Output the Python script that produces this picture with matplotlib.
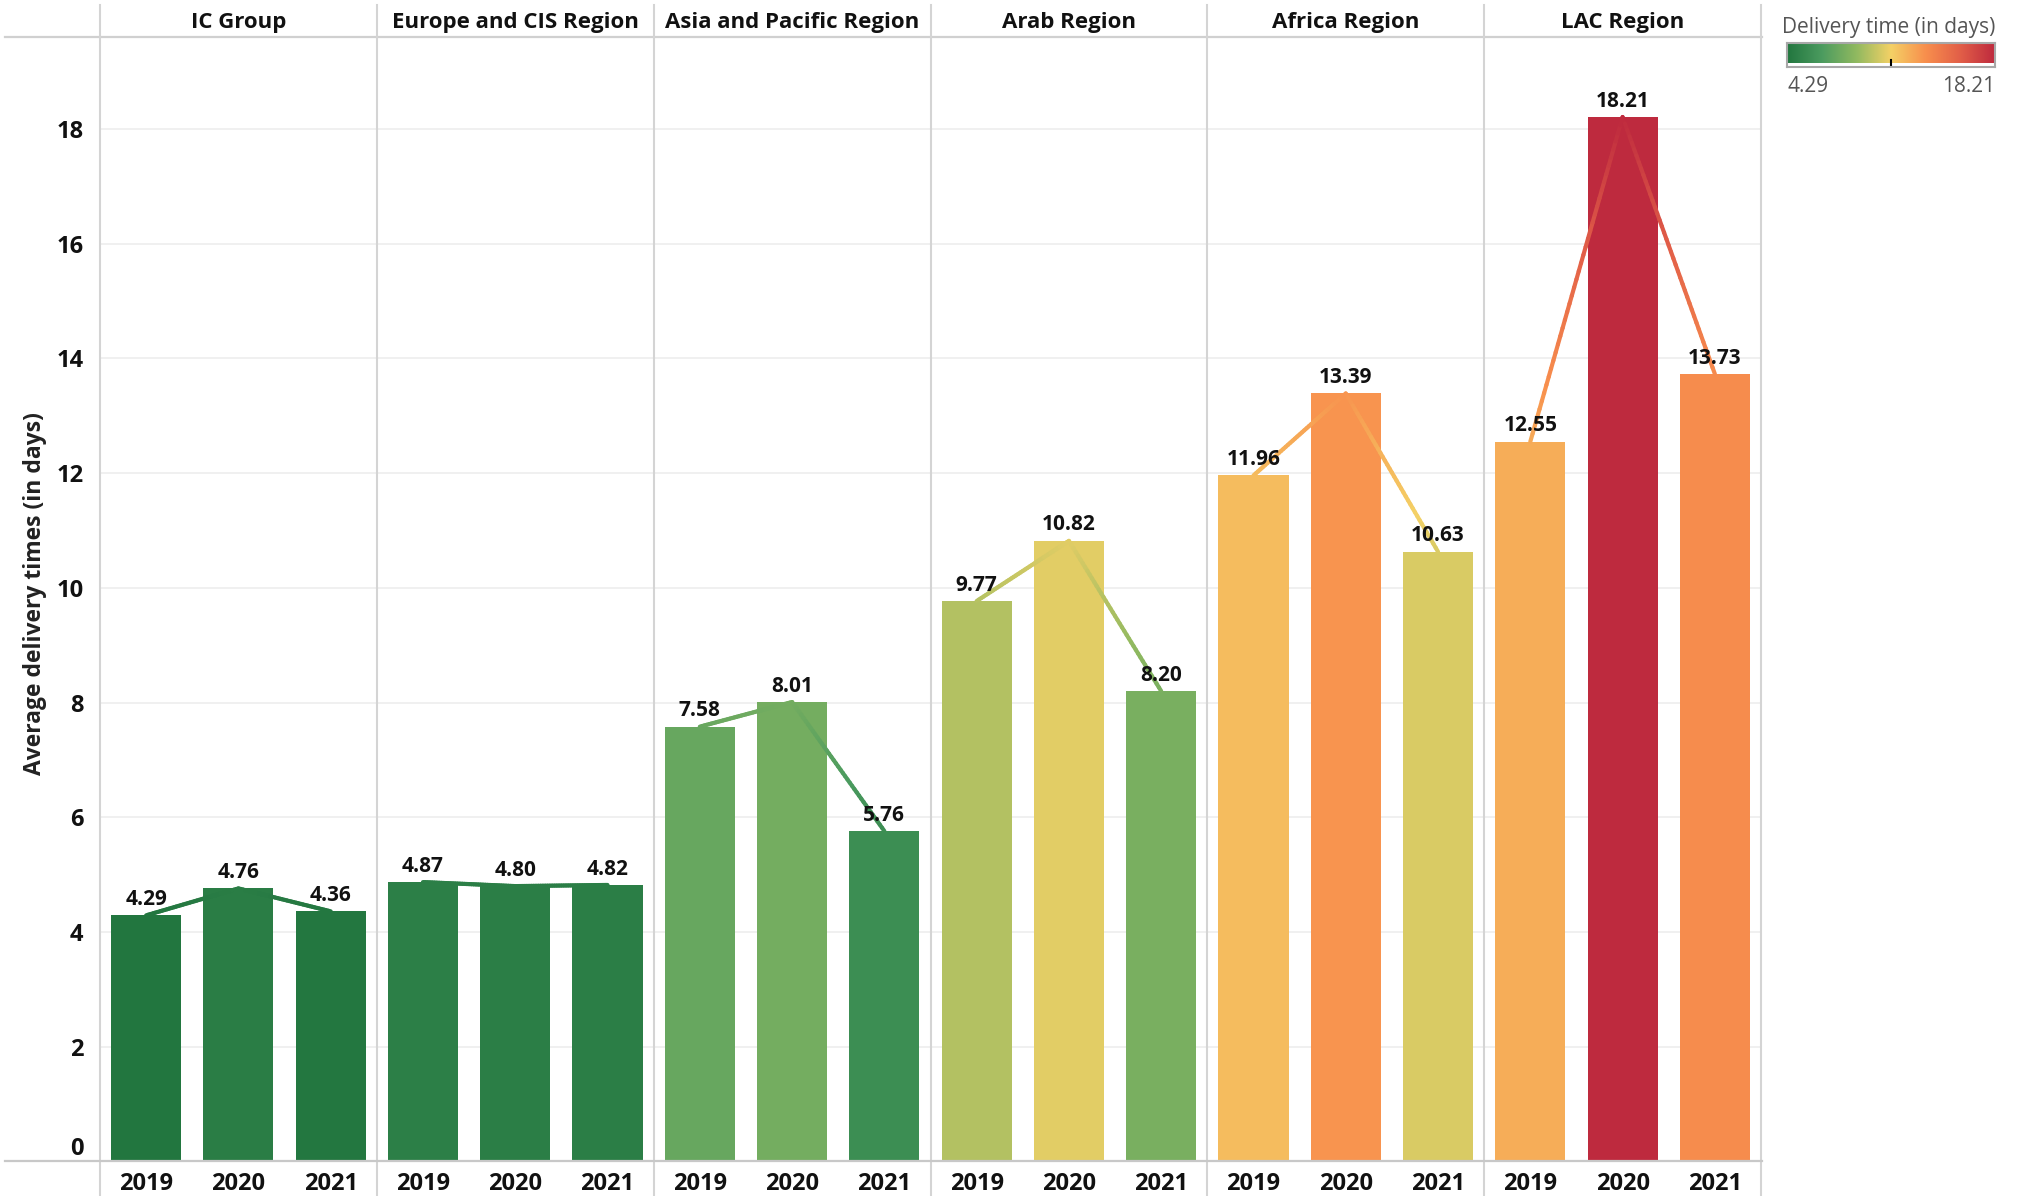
import matplotlib
matplotlib.use('Agg')
import matplotlib.pyplot as plt
import numpy as np
from matplotlib.colors import LinearSegmentedColormap, Normalize
from matplotlib.collections import LineCollection
from matplotlib.transforms import blended_transform_factory

# ---------------- data ----------------
regions = ["IC Group", "Europe and CIS Region", "Asia and Pacific Region",
           "Arab Region", "Africa Region", "LAC Region"]
years = ["2019", "2020", "2021"]
ic_group = [4.29, 4.76, 4.36]
europe_cis = [4.87, 4.80, 4.82]
asia_pacific = [7.58, 8.01, 5.76]
arab = [9.77, 10.82, 8.20]
africa = [11.96, 13.39, 10.63]
lac = [12.55, 18.21, 13.73]
y_ticks = [0, 2, 4, 6, 8, 10, 12, 14, 16, 18]
color_min, color_max = 4.29, 18.21
palette = ['#22763f', '#4b9b5f', '#90b960', '#f4d166', '#f88f4d', '#e25f48', '#be2a3e']

series = [ic_group, europe_cis, asia_pacific, arab, africa, lac]

# ---------------- style ----------------
plt.rcParams['font.family'] = ['Open Sans', 'DejaVu Sans']
W, H = 2021, 1196
fig = plt.figure(figsize=(W / 100, H / 100), dpi=100)

ax_left, ax_right, ax_top, ax_bottom = 100, 1761, 37.3, 1161.4
ax = fig.add_axes([ax_left / W, 1 - ax_bottom / H, (ax_right - ax_left) / W, (ax_bottom - ax_top) / H])

cmap = LinearSegmentedColormap.from_list('rgg', palette)
norm = Normalize(vmin=color_min, vmax=color_max)

n_years = len(years)
bar_w = 0.76
for p, vals in enumerate(series):
    xs = np.arange(n_years) + p * n_years
    ax.bar(xs, vals, width=bar_w, color=[cmap(norm(v)) for v in vals], zorder=2, linewidth=0)
    # gradient line connecting bar tops
    segs, cols = [], []
    for i in range(len(vals) - 1):
        n = 40
        tx = np.linspace(xs[i], xs[i + 1], n + 1)
        ty = np.linspace(vals[i], vals[i + 1], n + 1)
        for k in range(n):
            segs.append([(tx[k], ty[k]), (tx[k + 1], ty[k + 1])])
            cols.append(cmap(norm((ty[k] + ty[k + 1]) / 2)))
    lc = LineCollection(segs, colors=cols, linewidths=3.0, zorder=3, capstyle='round')
    ax.add_collection(lc)
    for x, v in zip(xs, vals):
        ax.annotate(f"{v:.2f}", (x, v), xytext=(0, 7.5), textcoords='offset points',
                    ha='center', va='baseline', fontsize=15, fontweight='bold',
                    color='#111111', zorder=5)

ax.set_xlim(-0.5, n_years * len(regions) - 0.5)
ax.set_ylim(0, 19.6)
ax.set_yticks(y_ticks)
ax.set_yticklabels([str(t) for t in y_ticks], fontsize=17, fontweight='bold', color='#111111')
ax.tick_params(axis='y', length=0, pad=12)
ax.tick_params(axis='x', length=0, labelbottom=False)
for lab in ax.get_yticklabels():
    if lab.get_text() == '0':
        lab.set_verticalalignment('bottom')
for s in ax.spines.values():
    s.set_visible(False)
for t in y_ticks[1:]:
    ax.axhline(t, color='#eeeeee', lw=1.2, zorder=0)

# header and bottom lines extending to the left
ax.plot([-(ax_left - 5) / (ax_right - ax_left), 1.0008], [1, 1], transform=ax.transAxes,
        color='#d0d0d0', lw=1.6, clip_on=False, zorder=1)
ax.plot([-(ax_left - 5) / (ax_right - ax_left), 1.0008], [0, 0], transform=ax.transAxes,
        color='#c8c8c8', lw=1.6, clip_on=False, zorder=4)

# panel separators
ymin_ext = -(H - ax_bottom) / (ax_bottom - ax_top)
ymax_ext = 1 + (ax_top - 5) / (ax_bottom - ax_top)
for b in range(len(regions) + 1):
    ax.axvline(b * n_years - 0.5, ymin=ymin_ext, ymax=ymax_ext, color='#d4d4d4', lw=1.5,
               clip_on=False, zorder=1)

trans = blended_transform_factory(ax.transData, ax.transAxes)
hdr_y = 1 + (ax_top - 22.5) / (ax_bottom - ax_top)
for p, r in enumerate(regions):
    ax.text(p * n_years + (n_years - 1) / 2, hdr_y, r, transform=trans, ha='center', va='center',
            fontsize=16, fontweight='bold', color='#111111')
yr_y = -(1184 - ax_bottom) / (ax_bottom - ax_top)
for p in range(len(regions)):
    for i, yname in enumerate(years):
        ax.text(p * n_years + i, yr_y, yname, transform=trans, ha='center', va='center',
                fontsize=17, fontweight='bold', color='#111111')

fig.text(35 / W, 1 - 594 / H, "Average delivery times (in days)", rotation=90,
         ha='center', va='center', fontsize=16.5, fontweight='bold', color='#222222')

# ---------------- colour legend ----------------
fig.text(1782 / W, 1 - 28 / H, "Delivery time (in days)", ha='left', va='center',
         fontsize=15, color='#555555')
cax = fig.add_axes([1787 / W, 1 - 67 / H, (1995 - 1787) / W, (67 - 43) / H])
grad = np.linspace(0, 1, 256).reshape(1, -1)
cax.imshow(grad, aspect='auto', cmap=cmap, extent=[0, 1, 0, 1])
cax.set_xticks([]); cax.set_yticks([])
for s in cax.spines.values():
    s.set_color('#a8a8a8'); s.set_linewidth(1.5)
cax.plot([0.5, 0.5], [-0.15, 0.12], color='black', lw=1.5, clip_on=False)
fig.text(1787 / W, 1 - 87 / H, f"{color_min:.2f}", ha='left', va='center', fontsize=15, color='#555555')
fig.text(1995 / W, 1 - 87 / H, f"{color_max:.2f}", ha='right', va='center', fontsize=15, color='#555555')

fig.savefig('out.png', dpi=100)
